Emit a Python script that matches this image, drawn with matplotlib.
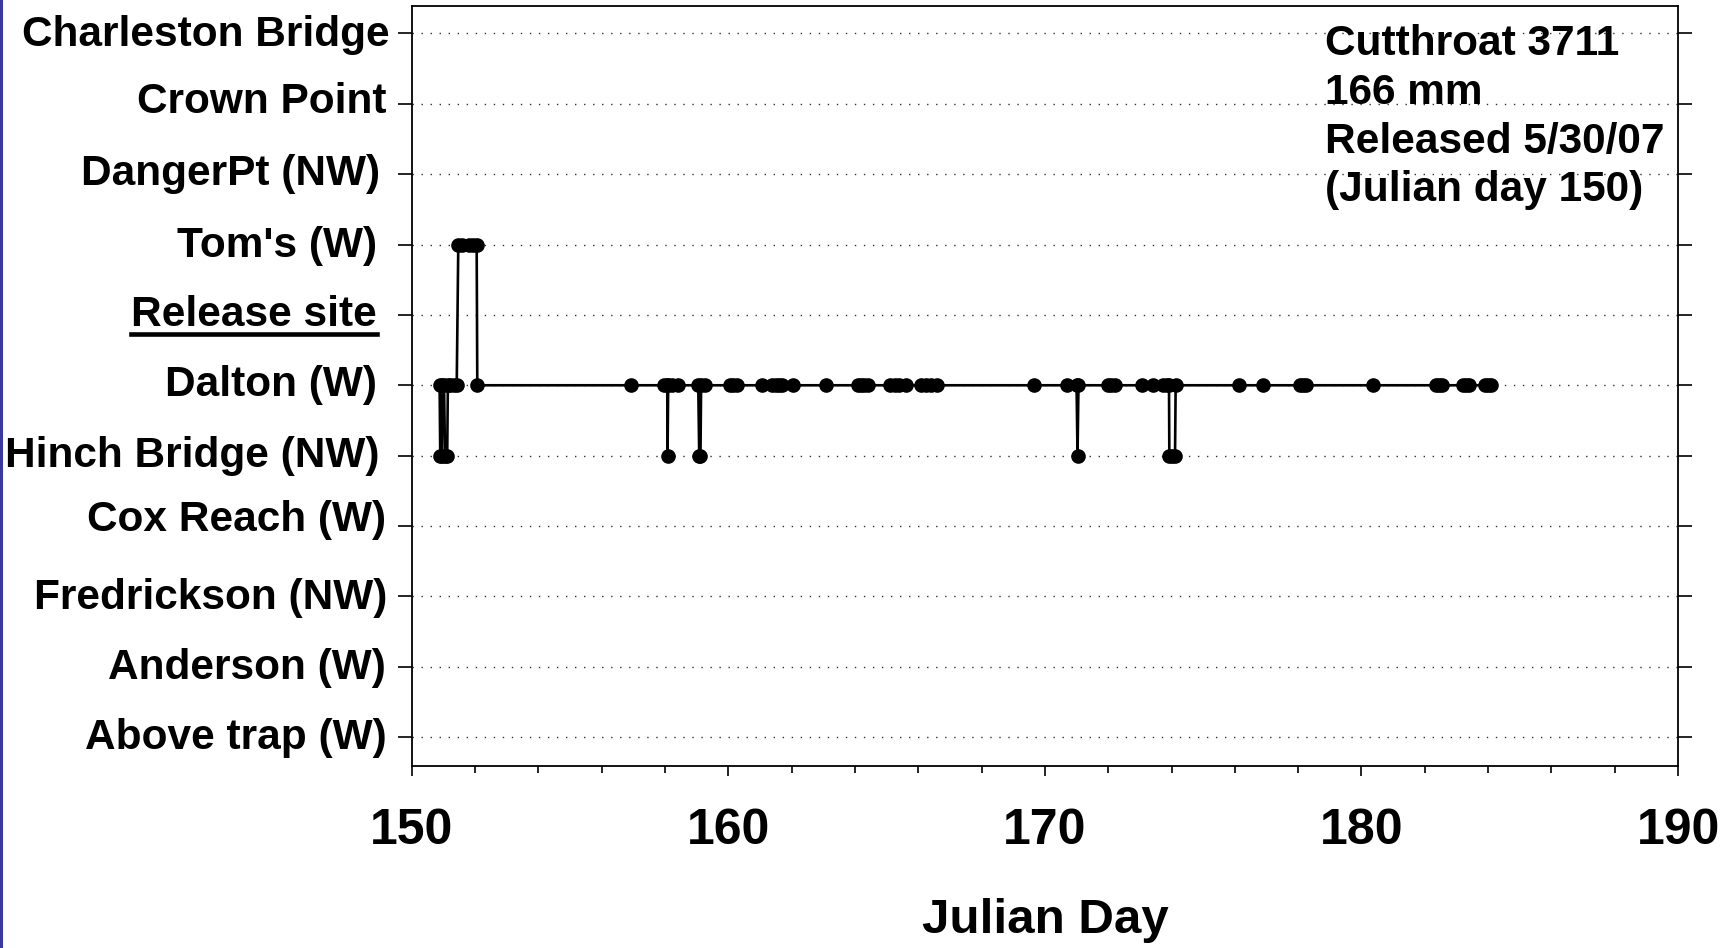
import matplotlib
matplotlib.use("Agg")
import matplotlib.pyplot as plt
from matplotlib.ticker import MultipleLocator
from matplotlib.lines import Line2D
from matplotlib.patches import Rectangle

# ---- data ----
locations = ["Above trap (W)", "Anderson (W)", "Fredrickson (NW)", "Cox Reach (W)",
             "Hinch Bridge (NW)", "Dalton (W)", "Release site", "Tom's (W)",
             "DangerPt (NW)", "Crown Point", "Charleston Bridge"]

days = [150.88, 150.90, 150.95, 150.97, 151.02, 151.05, 151.12, 151.14, 151.22, 151.32, 151.42,
        151.47, 151.60, 151.82, 151.95, 152.05, 152.07,
        156.92, 157.98, 158.07, 158.08, 158.10, 158.21, 158.42,
        159.05, 159.08, 159.12, 159.14, 159.26,
        160.05, 160.15, 160.26, 161.05, 161.37, 161.50, 161.60, 161.69, 162.05, 163.10,
        164.10, 164.20, 164.30, 164.40, 165.10, 165.25, 165.40, 165.60,
        166.10, 166.25, 166.40, 166.60, 169.67, 170.69, 171.00, 171.03, 171.06,
        172.00, 172.10, 172.20, 173.06, 173.40, 173.74, 173.85, 173.92, 173.93, 174.02,
        174.11, 174.13, 176.12, 176.90, 178.05, 178.15, 178.25, 180.37,
        182.35, 182.45, 182.55, 183.20, 183.30, 183.40, 183.90, 184.00, 184.10]

sites = ["Dalton (W)", "Hinch Bridge (NW)", "Hinch Bridge (NW)", "Dalton (W)", "Dalton (W)",
         "Hinch Bridge (NW)", "Hinch Bridge (NW)", "Dalton (W)", "Dalton (W)", "Dalton (W)", "Dalton (W)",
         "Tom's (W)", "Tom's (W)", "Tom's (W)", "Tom's (W)", "Tom's (W)", "Dalton (W)",
         "Dalton (W)", "Dalton (W)", "Dalton (W)", "Hinch Bridge (NW)", "Dalton (W)", "Dalton (W)", "Dalton (W)",
         "Dalton (W)", "Hinch Bridge (NW)", "Hinch Bridge (NW)", "Dalton (W)", "Dalton (W)",
         "Dalton (W)", "Dalton (W)", "Dalton (W)", "Dalton (W)", "Dalton (W)", "Dalton (W)", "Dalton (W)",
         "Dalton (W)", "Dalton (W)", "Dalton (W)",
         "Dalton (W)", "Dalton (W)", "Dalton (W)", "Dalton (W)", "Dalton (W)", "Dalton (W)", "Dalton (W)",
         "Dalton (W)",
         "Dalton (W)", "Dalton (W)", "Dalton (W)", "Dalton (W)", "Dalton (W)", "Dalton (W)", "Dalton (W)",
         "Hinch Bridge (NW)", "Dalton (W)",
         "Dalton (W)", "Dalton (W)", "Dalton (W)", "Dalton (W)", "Dalton (W)", "Dalton (W)", "Dalton (W)",
         "Dalton (W)", "Hinch Bridge (NW)", "Hinch Bridge (NW)",
         "Hinch Bridge (NW)", "Dalton (W)", "Dalton (W)", "Dalton (W)", "Dalton (W)", "Dalton (W)",
         "Dalton (W)", "Dalton (W)",
         "Dalton (W)", "Dalton (W)", "Dalton (W)", "Dalton (W)", "Dalton (W)", "Dalton (W)",
         "Dalton (W)", "Dalton (W)", "Dalton (W)"]

annotation = "Cutthroat 3711\n166 mm\nReleased 5/30/07\n(Julian day 150)"
x_label = "Julian Day"

# label placement tweaks (pixels): right-edge offset from spine, vertical offset
label_dx = [-25, -26, -24, -26, -32, -35, -35, -35, -32, -25, -22]
label_dy = [-1, -1, -2, 6, 0, 0, 0, -1, 0, 2, -2]

# ---- plot ----
plt.rcParams['font.family'] = ['Liberation Sans', 'DejaVu Sans']
plt.rcParams['font.weight'] = 'bold'

fig = plt.figure(figsize=(17.33, 9.48), dpi=100)
ax = fig.add_axes([0.2376, 0.192, 0.9683 - 0.2376, 0.9937 - 0.192])

yvals = [locations.index(s) for s in sites]
ax.plot(days, yvals, color='black', lw=1.9, marker='o', ms=9.5,
        markerfacecolor='black', markeredgecolor='black', zorder=3)

ax.set_xlim(150, 190)
ax.set_ylim(-0.41, 10.39)
ax.xaxis.set_major_locator(MultipleLocator(10))
ax.xaxis.set_minor_locator(MultipleLocator(2))
ax.set_yticks(range(len(locations)))
ax.set_yticklabels([])

for y in range(len(locations)):
    ax.axhline(y, color='#333333', lw=1.0, ls=(0, (1, 5.5)), zorder=1)

for sp in ax.spines.values():
    sp.set_linewidth(1.3)

ax.tick_params(axis='x', which='major', direction='out', length=7, width=1.2,
               labelsize=36, pad=23)
ax.tick_params(axis='x', which='minor', direction='out', length=5, width=1.2)
ax.tick_params(axis='y', which='major', direction='out', length=10, width=1.2,
               left=True, right=True, labelleft=False)
for lab in ax.get_xticklabels():
    lab.set_fontweight('bold')

ax.set_xlabel(x_label, fontsize=35.5, fontweight='bold', labelpad=32)

texts = []
for i, name in enumerate(locations):
    t = ax.annotate(name, xy=(0, i), xycoords=('axes fraction', 'data'),
                    xytext=(label_dx[i], label_dy[i]), textcoords='offset pixels',
                    ha='right', va='center', fontsize=30.5, fontweight='bold',
                    annotation_clip=False)
    texts.append(t)

ax.text(0.721, 0.976, annotation, transform=ax.transAxes, ha='left', va='top',
        fontsize=30.5, fontweight='bold', linespacing=1.28, zorder=4)

# left blue bar
fig.patches.append(Rectangle((0, 0), 3.5 / 1733, 1, transform=fig.transFigure,
                             facecolor='#3a3a9e', edgecolor='none'))

# underline the release site label
fig.canvas.draw()
r = fig.canvas.get_renderer()
bb = texts[locations.index("Release site")].get_window_extent(r)
W, H = fig.bbox.width, fig.bbox.height
uy = bb.y0 + 0.5
fig.lines.append(Line2D([bb.x0 / W, bb.x1 / W], [uy / H, uy / H],
                        transform=fig.transFigure, color='black', lw=3.3))

fig.savefig("out.png", dpi=100)
